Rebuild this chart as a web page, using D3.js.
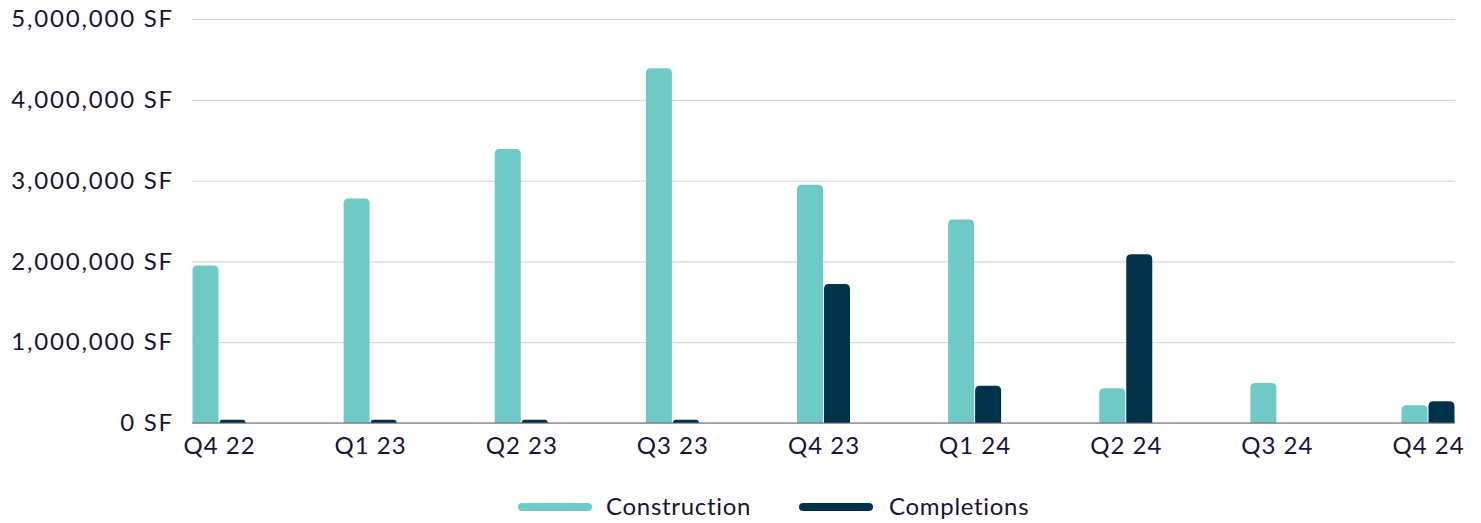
<!DOCTYPE html>
<html>
<head>
<meta charset="utf-8">
<script src="https://cdn.jsdelivr.net/npm/d3@7"></script>
<style>
  body { margin: 0; background: #ffffff; }
  text { font-family: Lato, "Open Sans", sans-serif; fill: #1b1236; }
</style>
</head>
<body>
<div id="chart"></div>
<script>
// quarters on the x axis
let quarters = [ "Q4 22", "Q1 23", "Q2 23", "Q3 23", "Q4 23", "Q1 24", "Q2 24", "Q3 24", "Q4 24" ] ;
// square feet under construction
let construction = [ 1950000, 2780000, 3390000, 4390000, 2950000, 2520000, 430000, 495000, 220000 ] ;
// square feet completed
let completions = [ 40000, 40000, 40000, 40000, 1720000, 460000, 2090000, 0, 270000 ] ;
let yTicks = [ 0, 1000000, 2000000, 3000000, 4000000, 5000000 ] ;
let seriesNames = [ "Construction", "Completions" ] ;
let seriesColors = [ "#6fc9c5", "#003349" ] ;

let W = 1481, H = 523 ;
let plotL = 192, plotR = 1455, plotT = 19, plotB = 423 ;
let barW = 27 ;
let grpW = barW * 2 ;

let svg = d3.select("#chart").append("svg")
	.attr("width", W)
	.attr("height", H) ;

let xPos = d3.scalePoint()
	.domain(quarters)
	.range([ plotL + grpW / 2, plotR - grpW / 2 ]) ;

let yScl = d3.scaleLinear()
	.domain([ 0, 5000000 ])
	.range([ plotB, plotT ]) ;

// gridlines + y labels
let yAxis = d3.axisLeft(yScl)
	.tickValues(yTicks)
	.tickSize(-(plotR - plotL))
	.tickPadding(18)
	.tickFormat( (d)=>{ return d3.format(",")(d) + " SF"; } ) ;

let yG = svg.append("g")
	.attr("transform", "translate(" + plotL + ",0)")
	.call(yAxis) ;
yG.select(".domain").remove() ;
yG.selectAll("line").attr("stroke", "#cfcdd6").attr("stroke-width", 1) ;
yG.selectAll("text")
	.attr("font-size", 24)
	.attr("letter-spacing", 1.8)
	.attr("fill", "#1b1236") ;

// bars, rounded top corners only
let topRounded = (x, y, w, h, r)=>{
	if (h <= 0) return "" ;
	r = Math.min(r, h, w / 2) ;
	return "M" + x + "," + (y + h)
		+ "V" + (y + r)
		+ "Q" + x + "," + y + " " + (x + r) + "," + y
		+ "H" + (x + w - r)
		+ "Q" + (x + w) + "," + y + " " + (x + w) + "," + (y + r)
		+ "V" + (y + h) + "Z" ;
} ;

let allSeries = [ construction, completions ] ;
allSeries.forEach( (vals, si)=>{
	svg.append("g")
		.selectAll("path")
		.data(quarters.map( (q, i)=>{ return { q: q, v: vals[i] }; } ))
		.enter().append("path")
			.attr("d", (d)=>{
				let x = xPos(d.q) - grpW / 2 + si * barW ;
				let y = yScl(d.v) ;
				return topRounded(x + 0.5, y, barW - 1, plotB - y, 5) ;
			})
			.attr("fill", seriesColors[si]) ;
}) ;

// baseline
svg.append("line")
	.attr("x1", plotL).attr("x2", plotR)
	.attr("y1", yScl(0)).attr("y2", yScl(0))
	.attr("stroke", "#6d6780").attr("stroke-width", 1.2) ;

// x labels
let xAxis = d3.axisBottom(xPos).tickSize(0).tickPadding(14) ;
let xG = svg.append("g")
	.attr("transform", "translate(0," + plotB + ")")
	.call(xAxis) ;
xG.select(".domain").remove() ;
xG.selectAll("text")
	.attr("font-size", 24)
	.attr("letter-spacing", 1)
	.attr("fill", "#1b1236") ;

// legend
let legX = [ 522, 803 ] ;
let legTx = [ 606, 889 ] ;
let leg = svg.append("g") ;
seriesNames.forEach( (nm, i)=>{
	leg.append("line")
		.attr("x1", legX[i]).attr("x2", legX[i] + 66)
		.attr("y1", 507).attr("y2", 507)
		.attr("stroke", seriesColors[i])
		.attr("stroke-width", 8)
		.attr("stroke-linecap", "round") ;
	leg.append("text")
		.attr("x", legTx[i])
		.attr("y", 507)
		.attr("dy", "0.35em")
		.attr("font-size", 24)
		.attr("letter-spacing", 0.7)
		.text(nm) ;
}) ;
</script>
</body>
</html>
